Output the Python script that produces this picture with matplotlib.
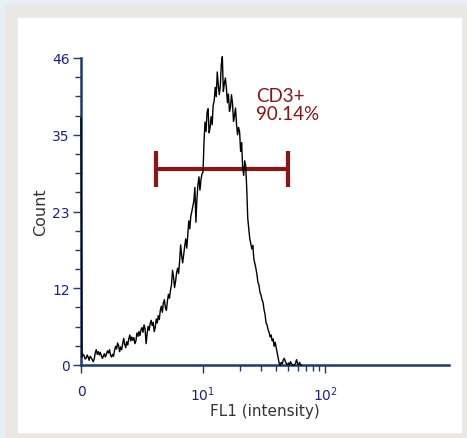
import numpy as np
import matplotlib
matplotlib.use("Agg")
import matplotlib.pyplot as plt
from matplotlib.patches import Rectangle
from matplotlib.ticker import FixedLocator, FixedFormatter, NullFormatter

# histogram counts per channel (120 channels per decade, channel 0 = intensity 0,
# holds the piled-up off-scale events)
counts = [
    37.0,
    1.2, 1.6, 1.4, 0.9, 1.0, 1.5, 1.2, 0.7, 1.3, 1.1,
    0.8, 0.5, 0.9, 1.8, 2.3, 1.6, 2.0, 1.5, 1.9, 1.4,
    1.0, 1.3, 1.7, 1.2, 1.6, 2.1, 1.8, 2.3, 1.5, 1.2,
    1.6, 1.3, 2.2, 2.8, 2.4, 3.3, 2.9, 2.0, 2.7, 2.3,
    3.2, 4.0, 3.1, 2.6, 3.5, 3.0, 3.9, 4.5, 3.6, 4.2,
    3.7, 4.1, 3.2, 3.6, 4.8, 4.3, 5.0, 4.4, 5.3, 5.6,
    4.9, 6.0, 5.5, 3.2, 4.6, 5.8, 5.2, 6.2, 6.7, 5.9,
    6.4, 5.0, 5.6, 6.9, 6.3, 7.4, 6.8, 8.2, 8.8, 7.9,
    9.3, 9.8, 8.6, 8.2, 9.6, 10.6, 10.0, 11.2, 12.0, 14.2,
    13.2, 11.6, 12.5, 13.8, 14.5, 13.7, 15.6, 18.0, 16.4, 15.3,
    16.6, 17.8, 18.9, 17.5, 19.4, 21.6, 20.4, 22.3, 23.0, 23.8,
    24.6, 26.6, 21.4, 24.8, 27.0, 28.2, 26.2, 27.8, 28.6, 28.9,
    33.5, 36.4, 35.0, 37.9, 38.4, 34.8, 35.6, 37.2, 36.0, 38.9,
    39.6, 41.6, 40.2, 43.9, 42.0, 40.5, 41.8, 45.0, 46.2, 41.0,
    42.2, 43.0, 41.5, 39.3, 40.6, 38.0, 38.6, 40.5, 39.2, 36.5,
    37.4, 38.5, 36.0, 34.5, 35.6, 34.9, 32.0, 33.3, 29.5, 28.4,
    30.6, 29.8, 26.5, 22.0, 20.5, 18.9, 18.2, 17.4, 17.9, 15.9,
    15.2, 14.5, 13.6, 12.4, 12.0, 10.9, 10.5, 9.8, 9.4, 8.3,
    7.6, 6.3, 6.0, 5.3, 4.9, 4.2, 4.5, 3.6, 3.9, 2.8,
    3.4, 2.6, 1.8, 1.0, 0.2, 0.0, 0.4, 0.2, 0.8, 1.0,
    0.5, 0.2, 0.0, 0.3, 0.0, 0.5, 0.2, 0.0, 0.0, 0.0,
    0.3, 0.8, 0.2, 0.0, 0.4, 0.0, 0.0,
]
channels_per_decade = 120

# gate
gate_lo = 6.15
gate_hi = 49.7
gate_y = 29.3
gate_name = "CD3+"
gate_pct = "90.14%"

y_ticks = [0, 11.5, 23, 34.5, 46]
y_labels = ["0", "12", "23", "35", "46"]
x_ticks = [0, 10, 100]
x_labels = ["0", r"$10^1$", r"$10^2$"]
x_minor = [20, 30, 40, 50, 60, 70, 80, 90]

navy = "#1b3a6e"
tick_col = "#1f1f8c"
gate_col = "#8a1515"


# linear between 0 and 10, log above, each piece one decade wide
def fwd(x):
    x = np.asarray(x, dtype=float)
    return np.where(x <= 10, x / 10.0, np.log10(np.maximum(x, 10)))


def inv(u):
    u = np.asarray(u, dtype=float)
    return np.where(u <= 1, u * 10.0, 10 ** np.clip(u, 1, 300))


fig = plt.figure(figsize=(4.67, 4.39), dpi=100)
fig.patch.set_facecolor("#e8eef7")
W, H = 467.0, 439.0
fig.patches.append(Rectangle((5 / W, 0), 1 - 5 / W, (H - 6) / H,
                             transform=fig.transFigure, color="#ebe8e3", zorder=-2))
fig.patches.append(Rectangle((18 / W, (H - 433) / H), (461 - 18) / W, (433 - 19) / H,
                             transform=fig.transFigure, color="white", zorder=-1))

ax = fig.add_axes([81 / W, (H - 366) / H, (449 - 81) / W, (366 - 59) / H])
ax.set_facecolor("none")
ax.set_xscale("function", functions=(fwd, inv))

chan_x = inv(np.arange(len(counts)) / channels_per_decade)
ax.plot(chan_x, counts, color="black", lw=1.0, zorder=5, clip_on=False)

# gate bar
ax.plot([gate_lo, gate_hi], [gate_y, gate_y], color=gate_col, lw=3, solid_capstyle="butt", zorder=3)
ax.vlines([gate_lo, gate_hi], gate_y - 2.7, gate_y + 2.7, color=gate_col, lw=3, zorder=3)
ax.text(27.2, 39.0, gate_name + "\n" + gate_pct, color=gate_col, fontsize=13.5,
        family="Lato", va="center", ha="left", linespacing=1.05)

ax.set_xlim(0, 1038)
ax.set_ylim(0, 46)

for s in ["top", "right"]:
    ax.spines[s].set_visible(False)
for s in ["left", "bottom"]:
    ax.spines[s].set_color(navy)
    ax.spines[s].set_linewidth(1.8)
    ax.spines[s].set_zorder(4)

ax.xaxis.set_major_locator(FixedLocator(x_ticks))
ax.xaxis.set_major_formatter(FixedFormatter(x_labels))
ax.xaxis.set_minor_locator(FixedLocator(x_minor))
ax.xaxis.set_minor_formatter(NullFormatter())
ax.yaxis.set_major_locator(FixedLocator(y_ticks))
ax.yaxis.set_major_formatter(FixedFormatter(y_labels))
ax.yaxis.set_minor_locator(FixedLocator(np.arange(0, 46.1, 2.875)))

ax.tick_params(which="major", length=6, width=1, color=navy, labelcolor=tick_col,
               labelsize=10, pad=2)
ax.tick_params(which="minor", length=4, width=1, color=navy)
ax.tick_params(axis="x", which="major", pad=8)

ax.set_ylabel("Count", fontsize=11.5, color="#333333", labelpad=3)
ax.set_xlabel("FL1 (intensity)", fontsize=11, color="#333333", labelpad=0)

fig.savefig("out.png", dpi=100)
